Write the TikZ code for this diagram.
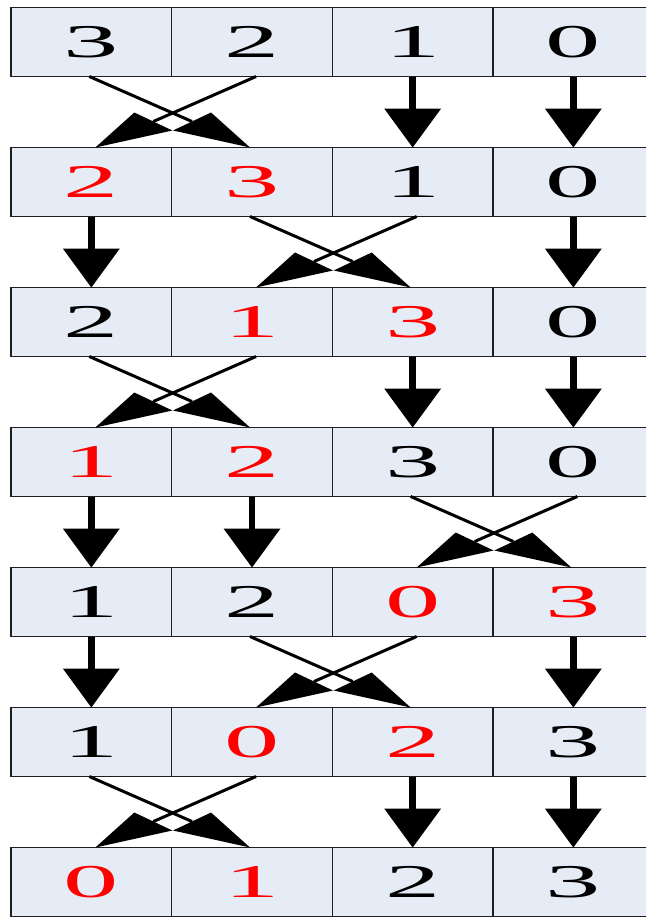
\documentclass[tikz,border=0pt]{standalone}
\usepackage{fontspec}
\setmainfont{Liberation Serif}
\usetikzlibrary{calc}
\definecolor{cellfill}{RGB}{230,236,246}
\definecolor{cellline}{RGB}{30,30,30}
\definecolor{hired}{RGB}{255,0,0}
\tikzset{
  cell/.style={draw=cellline, line width=1.5pt, fill=cellfill, anchor=north west,
    minimum width=160.67pt, minimum height=69pt, inner sep=0pt, outer sep=0pt,
    font=\fontsize{47}{56}\selectfont},
  shaft/.style={line width=6.5pt, black},
  xline/.style={line width=3pt, black},
}
\newcommand\dig[1]{\scalebox{2.35}[1]{#1}}
\newcommand\mycell[4]{\node[cell,text=#4] (c#1#2) at ({11+160.67*(#2-1)},{7.5+140*(#1-1)}) {\dig{#3}};}
\newcommand\straight[3]{%
  \draw[shaft] (c#1#2.south) -- ($(c#3#2.north)+(0,-37)$);
  \fill (c#3#2.north) -- ($(c#3#2.north)+(-28.5,-39)$) -- ($(c#3#2.north)+(28.5,-39)$) -- cycle;}
\newcommand\crossarr[4]{%
  \draw[xline] ($(c#1#3.south)+(-2,0)$) -- ($(c#2#4.north)+(-60,-26)$);
  \fill ($(c#2#4.north)+(-2,0)$) -- ++(-39,-35) -- ++(-38,18) -- cycle;
  \draw[xline] ($(c#1#4.south)+(4,0)$) -- ($(c#2#3.north)+(62,-26)$);
  \fill ($(c#2#3.north)+(4,0)$) -- ++(39,-35) -- ++(38,18) -- cycle;}
\begin{document}
\begin{tikzpicture}[x=1pt,y=-1pt]
\clip (0,0) rectangle (646,918);
\fill[white] (0,0) rectangle (646,918);
% row 1
\mycell{1}{1}{3}{black}\mycell{1}{2}{2}{black}\mycell{1}{3}{1}{black}\mycell{1}{4}{0}{black}
% row 2
\mycell{2}{1}{2}{hired}\mycell{2}{2}{3}{hired}\mycell{2}{3}{1}{black}\mycell{2}{4}{0}{black}
% row 3
\mycell{3}{1}{2}{black}\mycell{3}{2}{1}{hired}\mycell{3}{3}{3}{hired}\mycell{3}{4}{0}{black}
% row 4
\mycell{4}{1}{1}{hired}\mycell{4}{2}{2}{hired}\mycell{4}{3}{3}{black}\mycell{4}{4}{0}{black}
% row 5
\mycell{5}{1}{1}{black}\mycell{5}{2}{2}{black}\mycell{5}{3}{0}{hired}\mycell{5}{4}{3}{hired}
% row 6
\mycell{6}{1}{1}{black}\mycell{6}{2}{0}{hired}\mycell{6}{3}{2}{hired}\mycell{6}{4}{3}{black}
% row 7
\mycell{7}{1}{0}{hired}\mycell{7}{2}{1}{hired}\mycell{7}{3}{2}{black}\mycell{7}{4}{3}{black}
% arrows 1->2
\crossarr{1}{2}{1}{2}\straight{1}{3}{2}\straight{1}{4}{2}
% arrows 2->3
\straight{2}{1}{3}\crossarr{2}{3}{2}{3}\straight{2}{4}{3}
% arrows 3->4
\crossarr{3}{4}{1}{2}\straight{3}{3}{4}\straight{3}{4}{4}
% arrows 4->5
\straight{4}{1}{5}\straight{4}{2}{5}\crossarr{4}{5}{3}{4}
% arrows 5->6
\straight{5}{1}{6}\crossarr{5}{6}{2}{3}\straight{5}{4}{6}
% arrows 6->7
\crossarr{6}{7}{1}{2}\straight{6}{3}{7}\straight{6}{4}{7}
\end{tikzpicture}
\end{document}
